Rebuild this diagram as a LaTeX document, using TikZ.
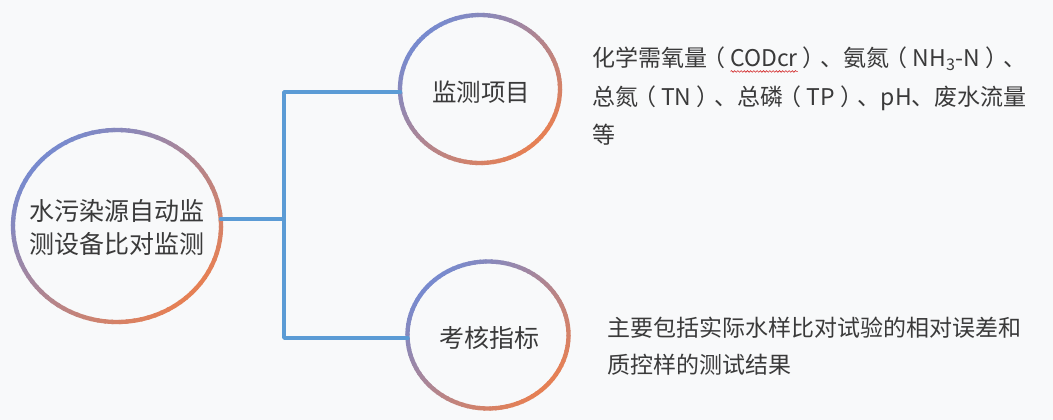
\documentclass[tikz,border=0pt]{standalone}
\usepackage{fontspec}
\setmainfont{Noto Sans CJK SC}
\usetikzlibrary{shapes.geometric,decorations.pathmorphing}
\definecolor{bgc}{HTML}{F8F9FA}
\definecolor{ringB}{RGB}{120,138,206}
\definecolor{ringO}{RGB}{230,128,84}
\definecolor{linec}{HTML}{5B9BD5}
\definecolor{txt}{HTML}{3A3A3A}
\definecolor{wavec}{RGB}{210,40,40}
\newsavebox\wavebox
\newlength\wavelen
\newcommand\spellwave[1]{\sbox\wavebox{#1}\setlength\wavelen{\wd\wavebox}%
  \rlap{\tikz[baseline=0pt,x=1pt,y=1pt]\draw[draw=wavec,line width=0.6pt,decorate,
    decoration={snake,amplitude=0.8pt,segment length=3.2pt}] (0pt,-4.5pt) -- (\wavelen,-4.5pt);}#1}
\newcommand\lpar{\hspace{-0.22em}（\hspace{0.22em}}
\newcommand\rpar{\hspace{0.22em}）\hspace{-0.22em}}
\newcommand\gradring[4]{%
  \foreach \a in {0,4,...,356}{%
    \pgfmathtruncatemacro\t{100*(cos(\a+2)+sin(\a+2)+1.41421)/2.82843}%
    \draw[ringline, draw=ringO!\t!ringB] (#1,#2) ++(\a:#3 and #4)
      arc[start angle=\a, end angle=\a+5, x radius=#3, y radius=#4];
  }}
\tikzset{
  ringline/.style={line width=4.3, line cap=butt},
  circnode/.style={inner sep=0, text=txt, align=center},
  conn/.style={draw=linec, line width=3.4, line join=round, line cap=round},
  desc/.style={anchor=west, inner sep=0, text=txt, align=left}
}
\begin{document}
\begin{tikzpicture}[x=1pt,y=-1pt]
\useasboundingbox (0,0) rectangle (1053,420);
\fill[bgc] (0,0) rectangle (1053,420);

% circles (text nodes + gradient rings)
\node[circnode, font=\fontsize{25}{33}\selectfont] (main) at (117,228)
  {水污染源自动监\\测设备比对监测};
\node[circnode, font=\fontsize{24.5}{30}\selectfont] (top) at (481,92) {监测项目};
\node[circnode, font=\fontsize{25}{30}\selectfont] (bot) at (489,338) {考核指标};

\gradring{117}{226}{104}{96}
\gradring{480}{89}{80}{74}
\gradring{488}{335}{80.5}{73.5}

% points where the connectors meet the rings
\coordinate (main-e) at (220.5,219);
\coordinate (top-w) at (400.5,92);
\coordinate (bot-w) at (408,338);

% junctions
\coordinate (jm) at (284,219);
\coordinate (jt) at (284,92);
\coordinate (jb) at (284,338);

\draw[conn] (main-e) -- (jm);
\draw[conn] (top-w) -- (jt) -- (jb) -- (bot-w);

% descriptions
\node[desc, font=\fontsize{23}{38.5}\selectfont] (d1) at (592,96.5)
  {化学需氧量\lpar\spellwave{CODcr}\rpar、氨氮\lpar NH\textsubscript{3}-N\rpar、\\
   总氮\lpar TN\rpar、总磷\lpar TP\rpar、pH、废水流量\\
   等};
\node[desc, font=\fontsize{23}{37}\selectfont] (d2) at (607,346.5)
  {主要包括实际水样比对试验的相对误差和\\
   质控样的测试结果};
\end{tikzpicture}
\end{document}
